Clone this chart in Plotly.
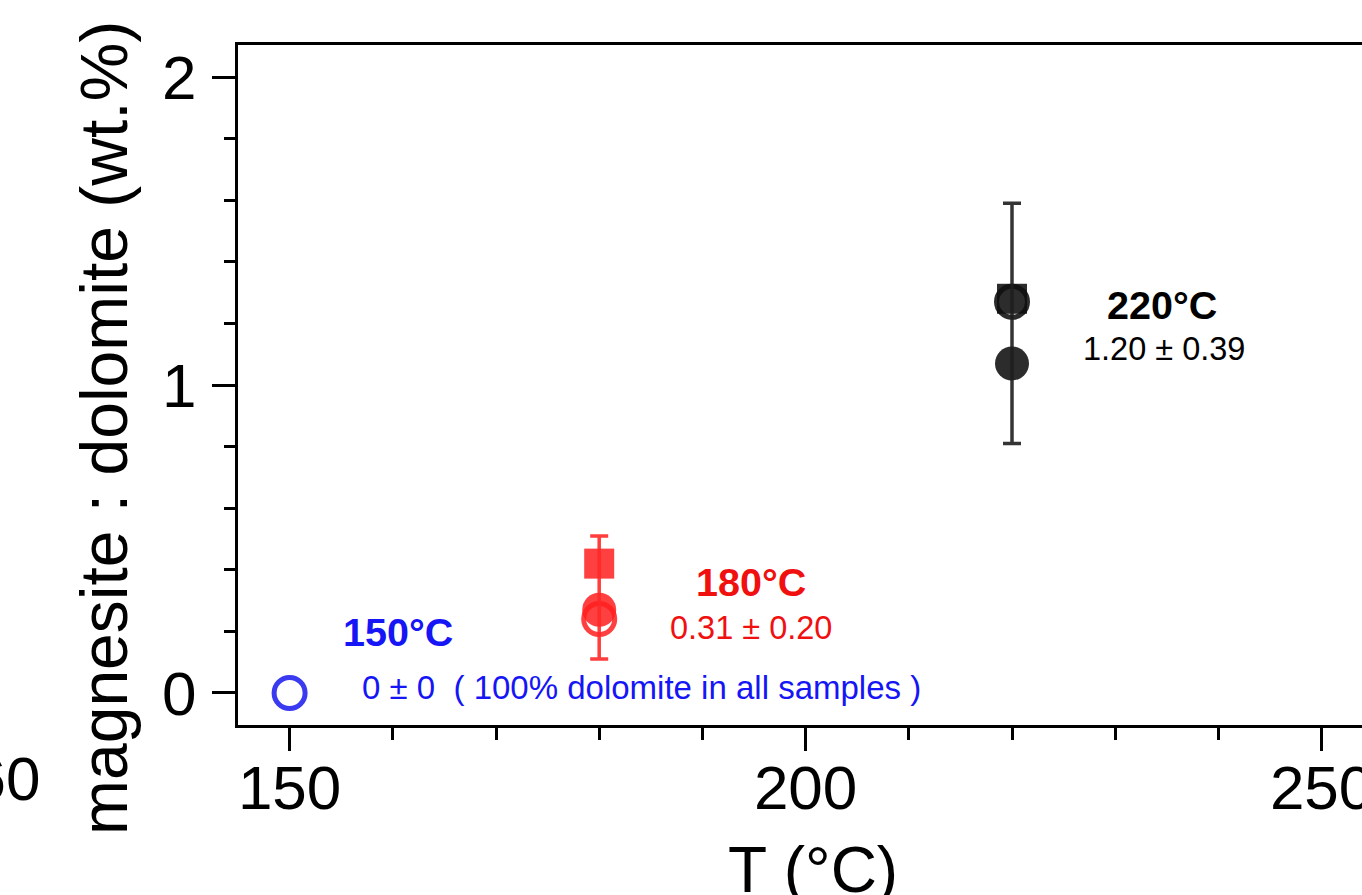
import plotly.graph_objects as go

# ---- data ----
T_150 = [150]
ratio_150_open = [0.0]

T_180 = [180]
ratio_180_square = [0.42]
ratio_180_filled = [0.27]
ratio_180_open = [0.24]
mean_180 = [0.31]
err_180 = [0.20]

T_220 = [220]
ratio_220_square = [1.28]
ratio_220_open = [1.27]
ratio_220_filled = [1.07]
mean_220 = [1.20]
err_220 = [0.39]

x_tick_vals = [150, 200, 250]
y_tick_vals = [0, 1, 2]

FONT = "Liberation Sans, Arial, sans-serif"
BLUE_TXT = "#1515f5"
BLUE_MK = "#3a3af0"
RED_TXT = "#f01010"
RED_MK = "rgba(255,30,30,0.85)"
BLK_MK = "rgba(15,15,15,0.88)"

W, H = 1362, 895
ML, MT, MR, MB = 238, 45, 0, 170
PW, PH = W - ML - MR, H - MT - MB


def px2paper(px, py):
    return (px - ML) / PW, (H - MB - py) / PH


fig = go.Figure()

# 150 C
fig.add_trace(go.Scatter(x=T_150, y=ratio_150_open, mode="markers",
                         marker=dict(symbol="circle-open", size=31, color=BLUE_MK,
                                     line=dict(width=5, color=BLUE_MK)),
                         showlegend=False))
# 180 C
fig.add_trace(go.Scatter(x=T_180, y=ratio_180_square, mode="markers",
                         marker=dict(symbol="square", size=30, color=RED_MK, line=dict(width=0)),
                         showlegend=False))
fig.add_trace(go.Scatter(x=T_180, y=ratio_180_filled, mode="markers",
                         marker=dict(symbol="circle", size=34, color=RED_MK, line=dict(width=0)),
                         showlegend=False))
fig.add_trace(go.Scatter(x=T_180, y=ratio_180_open, mode="markers",
                         marker=dict(symbol="circle-open", size=31, color=RED_MK,
                                     line=dict(width=5, color=RED_MK)),
                         showlegend=False))
fig.add_trace(go.Scatter(x=T_180, y=mean_180, mode="markers",
                         marker=dict(size=0.1, color="rgba(0,0,0,0)"),
                         error_y=dict(type="data", array=err_180, visible=True,
                                      color="rgba(255,40,40,0.9)", thickness=3.5, width=9),
                         showlegend=False))
# 220 C
fig.add_trace(go.Scatter(x=T_220, y=ratio_220_square, mode="markers",
                         marker=dict(symbol="square", size=30, color=BLK_MK, line=dict(width=0)),
                         showlegend=False))
fig.add_trace(go.Scatter(x=T_220, y=ratio_220_open, mode="markers",
                         marker=dict(symbol="circle-open", size=31, color=BLK_MK,
                                     line=dict(width=5, color=BLK_MK)),
                         showlegend=False))
fig.add_trace(go.Scatter(x=T_220, y=ratio_220_filled, mode="markers",
                         marker=dict(symbol="circle", size=34, color=BLK_MK, line=dict(width=0)),
                         showlegend=False))
fig.add_trace(go.Scatter(x=T_220, y=mean_220, mode="markers",
                         marker=dict(size=0.1, color="rgba(0,0,0,0)"),
                         error_y=dict(type="data", array=err_220, visible=True,
                                      color="rgba(30,30,30,0.9)", thickness=3.5, width=9),
                         showlegend=False))

BOLD = 39.5
REG = 32.5
annotations = []
# point labels (data coordinates)
annotations += [
    dict(x=160.5, y=0.197, xref="x", yref="y", text="<b>150°C</b>", showarrow=False,
         font=dict(family=FONT, size=BOLD, color=BLUE_TXT)),
    dict(x=156.8, y=0.017, xref="x", yref="y", xanchor="left",
         text="0 ± 0  ( 100% dolomite in all samples )", showarrow=False,
         font=dict(family=FONT, size=33, color=BLUE_TXT)),
    dict(x=194.7, y=0.360, xref="x", yref="y", text="<b>180°C</b>", showarrow=False,
         font=dict(family=FONT, size=BOLD, color=RED_TXT)),
    dict(x=194.7, y=0.210, xref="x", yref="y", text="0.31 ± 0.20", showarrow=False,
         font=dict(family=FONT, size=REG, color=RED_TXT)),
    dict(x=234.5, y=1.260, xref="x", yref="y", text="<b>220°C</b>", showarrow=False,
         font=dict(family=FONT, size=BOLD, color="black")),
    dict(x=234.7, y=1.118, xref="x", yref="y", text="1.20 ± 0.39", showarrow=False,
         font=dict(family=FONT, size=REG, color="black")),
]

# axis titles and the cut-off neighbour label (paper coordinates)
xt, yt = px2paper(813, 870)
annotations.append(dict(x=xt, y=yt, xref="paper", yref="paper", text="T (°C)",
                        showarrow=False, xanchor="center", yanchor="middle",
                        font=dict(family=FONT, size=64, color="black")))
xt, yt = px2paper(104, 428)
annotations.append(dict(x=xt, y=yt, xref="paper", yref="paper",
                        text="magnesite : dolomite (wt.%)", textangle=-90,
                        showarrow=False, xanchor="center", yanchor="middle",
                        font=dict(family=FONT, size=66, color="black")))
xt, yt = px2paper(42, 778)
annotations.append(dict(x=xt, y=yt, xref="paper", yref="paper", text="160",
                        showarrow=False, xanchor="right", yanchor="middle",
                        font=dict(family=FONT, size=62, color="black")))

fig.update_layout(
    width=W, height=H,
    margin=dict(l=ML, r=MR, t=MT, b=MB, pad=0, autoexpand=False),
    paper_bgcolor="white", plot_bgcolor="white",
    font=dict(family=FONT, color="black"),
    annotations=annotations,
    showlegend=False,
)

fig.update_xaxes(
    range=[145, 145 + PW / 10.32], tickmode="array", tickvals=x_tick_vals,
    ticks="outside", ticklen=23, tickwidth=3, tickcolor="black",
    showline=True, linewidth=3, linecolor="black", mirror=True, automargin=False,
    showgrid=False, zeroline=False, ticklabeloverflow="allow", ticklabelstandoff=-16,
    tickfont=dict(family=FONT, size=62, color="black"),
    minor=dict(dtick=10, tick0=150, ticks="outside", ticklen=12, tickwidth=3, tickcolor="black"),
)
fig.update_yaxes(
    range=[-0.104, 2.104], tickmode="array", tickvals=y_tick_vals,
    ticks="outside", ticklen=23, tickwidth=3, tickcolor="black",
    showline=True, linewidth=3, linecolor="black", mirror=False, automargin=False,
    showgrid=False, zeroline=False, ticklabeloverflow="allow", ticklabelstandoff=3,
    tickfont=dict(family=FONT, size=62, color="black"),
    minor=dict(dtick=0.2, tick0=0, ticks="outside", ticklen=11, tickwidth=3, tickcolor="black"),
)

fig.write_html(
    "out.html",
    config={"displayModeBar": False},
    post_script="document.body.style.margin='0';document.body.style.overflow='hidden';",
)
